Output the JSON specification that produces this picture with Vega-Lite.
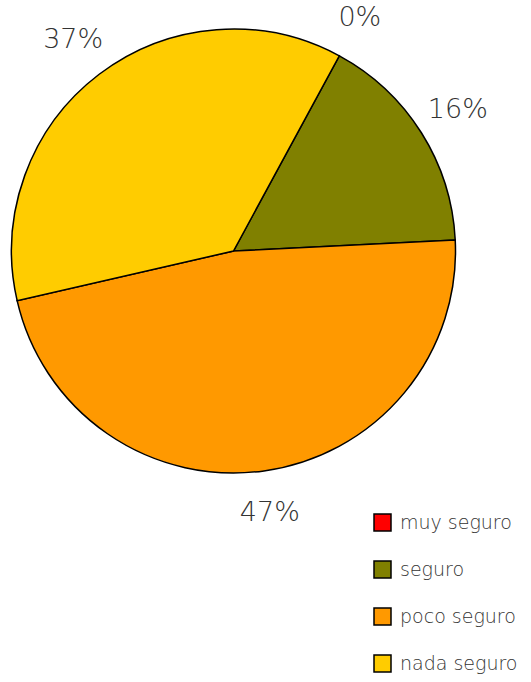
{
  "$schema": "https://vega.github.io/schema/vega-lite/v6.json",
  "width": 467,
  "height": 502,
  "padding": 0,
  "background": "white",
  "config": {"view": {"stroke": null}},
  "data": {
    "values": [
      {"categoria": "muy seguro", "orden": 1, "valor": 0, "etiqueta": "0%"},
      {"categoria": "seguro", "orden": 2, "valor": 16.3, "etiqueta": "16%"},
      {"categoria": "poco seguro", "orden": 3, "valor": 47.2, "etiqueta": "47%"},
      {"categoria": "nada seguro", "orden": 4, "valor": 36.5, "etiqueta": "37%"}
    ]
  },
  "encoding": {
    "theta": {"field": "valor", "type": "quantitative", "stack": true, "scale": {"range": [0.497, 6.780]}},
    "order": {"field": "orden", "type": "ordinal"}
  },
  "layer": [
    {
      "mark": {"type": "arc", "radius": 222, "stroke": "black", "strokeWidth": 1.5},
      "encoding": {
        "color": {
          "field": "categoria",
          "type": "nominal",
          "sort": ["muy seguro", "seguro", "poco seguro", "nada seguro"],
          "scale": {"domain": ["muy seguro", "seguro", "poco seguro", "nada seguro"], "range": ["#FF0000", "#808000", "#FF9900", "#FFCC00"]},
          "legend": {
            "title": null,
            "orient": "none",
            "legendX": 373,
            "legendY": 513,
            "symbolType": "square",
            "symbolSize": 289,
            "symbolStrokeColor": "black",
            "symbolStrokeWidth": 1.5,
            "symbolOpacity": 1,
            "labelFont": "DejaVu Sans",
            "labelFontWeight": 200,
            "labelFontSize": 19,
            "labelColor": "#333333",
            "labelOffset": 8,
            "rowPadding": 24
          }
        }
      }
    },
    {
      "mark": {"type": "text", "radius": 265, "font": "DejaVu Sans", "fontWeight": 200, "fontSize": 27, "color": "#333333", "align": "center", "baseline": "middle"},
      "encoding": {
        "text": {"field": "etiqueta", "type": "nominal"}
      }
    }
  ]
}
